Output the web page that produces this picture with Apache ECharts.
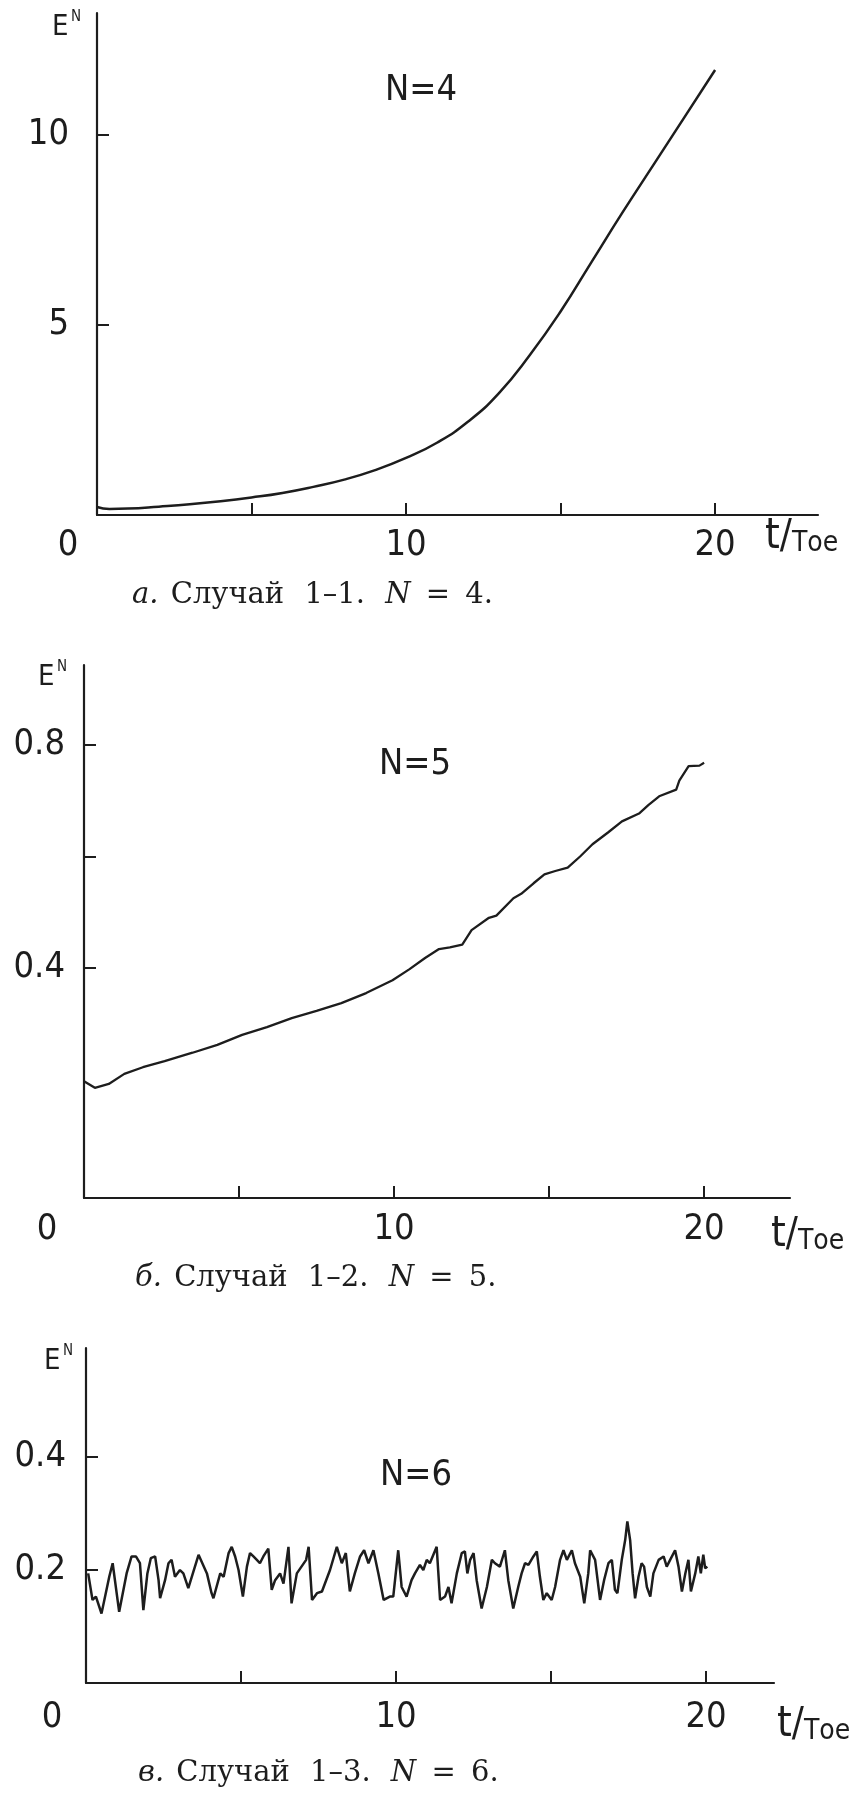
<!DOCTYPE html>
<html>
<head>
<meta charset="utf-8">
<title>Энергия E^N от времени</title>
<script src="https://cdn.jsdelivr.net/npm/echarts@6/dist/echarts.min.js"></script>
<style>
  html, body { margin: 0; padding: 0; background: #ffffff; }
  #chart { width: 864px; height: 1799px; }
</style>
</head>
<body>
<div id="chart"></div>
<script>
// ---- Panel а: N = 4 (smooth growth) ----
const tA = [0, 0.4, 1, 2, 3, 4, 5, 6, 7, 8, 9, 10,
            11, 12, 13, 14, 15, 16, 17, 18, 19, 20];
const eA = [0.21, 0.16, 0.17, 0.22, 0.28, 0.36, 0.46, 0.58, 0.74, 0.93, 1.18, 1.5,
            1.9, 2.45, 3.2, 4.2, 5.35, 6.65, 7.95, 9.2, 10.45, 11.7];

// ---- Panel б: N = 5 (slow, slightly jagged growth) ----
const tB = [0, 0.35, 0.8, 1.3, 1.9, 2.6, 3.5, 4.3, 5.1, 5.9,
            6.7, 7.5, 8.3, 9.1, 9.95, 10.5, 11.0, 11.45, 11.8, 12.2,
            12.5, 13.06, 13.3, 13.85, 14.1, 14.5, 14.85, 15.2, 15.6, 16.0,
            16.4, 16.9, 17.35, 17.9, 18.2, 18.55, 19.1, 19.2, 19.5, 19.85,
            20.0];
const eB = [0.197, 0.185, 0.192, 0.21, 0.222, 0.233, 0.248, 0.262, 0.28, 0.294,
            0.31, 0.323, 0.337, 0.355, 0.378, 0.398, 0.418, 0.434, 0.437, 0.442,
            0.468, 0.49, 0.494, 0.525, 0.533, 0.552, 0.568, 0.574, 0.58, 0.6,
            0.622, 0.643, 0.663, 0.677, 0.692, 0.708, 0.72, 0.736, 0.762, 0.763,
            0.768];

// ---- Panel в: N = 6 (oscillating around 0.2) ----
const tC = [0.07, 0.21, 0.32, 0.5, 0.75, 0.86, 1.07, 1.31, 1.47, 1.61,
            1.74, 1.85, 1.98, 2.09, 2.23, 2.34, 2.39, 2.55, 2.66, 2.76,
            2.87, 3.03, 3.14, 3.3, 3.63, 3.9, 4.05, 4.11, 4.33, 4.44,
            4.6, 4.7, 4.81, 4.92, 5.06, 5.19, 5.29, 5.4, 5.51, 5.61,
            5.72, 5.88, 5.99, 6.1, 6.26, 6.37, 6.53, 6.63, 6.8, 7.1,
            7.18, 7.29, 7.45, 7.61, 7.87, 8.09, 8.25, 8.38, 8.51, 8.67,
            8.84, 8.97, 9.11, 9.27, 9.43, 9.6, 9.8, 9.91, 10.07, 10.18,
            10.34, 10.5, 10.61, 10.77, 10.88, 10.99, 11.09, 11.31, 11.42, 11.58,
            11.69, 11.79, 11.96, 12.12, 12.22, 12.3, 12.39, 12.5, 12.6, 12.76,
            12.93, 13.09, 13.19, 13.35, 13.51, 13.62, 13.78, 13.94, 14.05, 14.16,
            14.27, 14.43, 14.54, 14.64, 14.75, 14.86, 15.02, 15.13, 15.29, 15.4,
            15.51, 15.67, 15.77, 15.94, 16.07, 16.2, 16.26, 16.42, 16.58, 16.71,
            16.85, 16.96, 17.06, 17.14, 17.28, 17.39, 17.46, 17.55, 17.63, 17.71,
            17.82, 17.92, 18.0, 18.09, 18.2, 18.3, 18.47, 18.63, 18.73, 18.84,
            19.0, 19.11, 19.22, 19.33, 19.43, 19.51, 19.65, 19.75, 19.83, 19.91,
            19.97, 20.04];
const eC = [0.194, 0.147, 0.153, 0.123, 0.188, 0.212, 0.126, 0.194, 0.224, 0.224,
            0.212, 0.129, 0.194, 0.221, 0.224, 0.182, 0.150, 0.182, 0.212, 0.218,
            0.188, 0.200, 0.194, 0.168, 0.227, 0.194, 0.159, 0.150, 0.194, 0.188,
            0.230, 0.241, 0.224, 0.200, 0.153, 0.206, 0.230, 0.224, 0.218, 0.212,
            0.224, 0.238, 0.165, 0.182, 0.194, 0.176, 0.241, 0.141, 0.194, 0.218,
            0.241, 0.147, 0.159, 0.162, 0.200, 0.241, 0.212, 0.230, 0.162, 0.194,
            0.224, 0.235, 0.212, 0.235, 0.194, 0.147, 0.153, 0.153, 0.235, 0.170,
            0.153, 0.182, 0.194, 0.209, 0.200, 0.218, 0.212, 0.241, 0.147, 0.153,
            0.170, 0.141, 0.194, 0.230, 0.233, 0.194, 0.218, 0.230, 0.182, 0.132,
            0.170, 0.218, 0.212, 0.206, 0.235, 0.182, 0.132, 0.170, 0.194, 0.212,
            0.209, 0.224, 0.233, 0.188, 0.147, 0.159, 0.147, 0.170, 0.218, 0.235,
            0.218, 0.235, 0.212, 0.188, 0.141, 0.194, 0.235, 0.218, 0.147, 0.182,
            0.212, 0.218, 0.165, 0.159, 0.218, 0.253, 0.286, 0.253, 0.194, 0.150,
            0.188, 0.212, 0.206, 0.170, 0.153, 0.194, 0.218, 0.224, 0.206, 0.218,
            0.235, 0.206, 0.162, 0.194, 0.218, 0.162, 0.194, 0.224, 0.194, 0.227,
            0.203, 0.206];

// ---- Axis ticks and labels ----
const xTicks = [5, 10, 15, 20];
const xLabels = [0, 10, 20];
const yTicksA = [5, 10];
const yLabelsA = [5, 10];
const yTicksB = [0.4, 0.6, 0.8];
const yLabelsB = [0.4, 0.8];
const yTicksC = [0.2, 0.4];
const yLabelsC = [0.2, 0.4];

// ---- Texts ----
const panelTitles = ['N=4', 'N=5', 'N=6'];
const caseLetters = ['а.', 'б.', 'в.'];
const caseNames = ['Случай 1–1.', 'Случай 1–2.', 'Случай 1–3.'];
const caseN = ['4.', '5.', '6.'];

const INK = '#1d1d1d';
const PLOT_FONT = '"DejaVu Sans Condensed", "Liberation Sans Narrow", "Liberation Sans", Arial, sans-serif';
const SERIF_FONT = '"DejaVu Serif", "Liberation Serif", serif';

const zip = (xs, ys) => xs.map((x, i) => [x, ys[i]]);

// Panel geometry (pixel boxes of the three plotting areas)
const panels = [
  { grid: { left: 97, top: 13, width: 721, height: 502 },
    xMax: 23.33, yMin: 0, yMax: 13.2,
    yTicks: yTicksA, yLabels: yLabelsA, yFmt: v => String(v),
    yMargin: 28, xMargin: 13, zeroShift: 58,
    data: zip(tA, eA), smooth: 0.5, width: 2.5 },
  { grid: { left: 84, top: 665, width: 706, height: 533 },
    xMax: 22.77, yMin: -0.0126, yMax: 0.9435,
    yTicks: yTicksB, yLabels: yLabelsB, yFmt: v => v.toFixed(1),
    yMargin: 19, xMargin: 14, zeroShift: 74,
    data: zip(tB, eB), smooth: false, width: 2.3 },
  { grid: { left: 86, top: 1348, width: 688, height: 335 },
    xMax: 22.19, yMin: 0, yMax: 0.593,
    yTicks: yTicksC, yLabels: yLabelsC, yFmt: v => v.toFixed(1),
    yMargin: 20, xMargin: 17, zeroShift: 68,
    data: zip(tC, eC), smooth: false, width: 2.5 }
];

const axisLine = { show: true, onZero: false, lineStyle: { color: INK, width: 2.2 } };
const tickStyle = { color: INK, width: 2 };

const option = {
  backgroundColor: '#ffffff',
  animation: false,
  grid: panels.map(p => p.grid),
  xAxis: panels.map((p, i) => ({
    type: 'value', gridIndex: i, min: 0, max: p.xMax,
    axisLine: axisLine,
    splitLine: { show: false },
    axisTick: { show: true, inside: true, length: 12, lineStyle: tickStyle, customValues: xTicks },
    axisLabel: {
      customValues: xLabels,
      margin: p.xMargin,
      color: INK, fontFamily: PLOT_FONT, fontSize: 36,
      formatter: v => (v === 0 ? '{o|0}' : String(v)),
      rich: { o: { fontFamily: PLOT_FONT, fontSize: 36, color: INK, padding: [0, p.zeroShift, 0, 0] } }
    }
  })),
  yAxis: panels.map((p, i) => ({
    type: 'value', gridIndex: i, min: p.yMin, max: p.yMax,
    axisLine: axisLine,
    splitLine: { show: false },
    axisTick: { show: true, inside: true, length: 12, lineStyle: tickStyle, customValues: p.yTicks },
    axisLabel: {
      customValues: p.yLabels,
      margin: p.yMargin,
      color: INK, fontFamily: PLOT_FONT, fontSize: 36,
      formatter: p.yFmt
    }
  })),
  series: panels.map((p, i) => ({
    type: 'line', xAxisIndex: i, yAxisIndex: i,
    data: p.data, showSymbol: false, smooth: p.smooth,
    lineStyle: { color: INK, width: p.width },
    silent: true
  })),
  graphic: []
};

// Axis captions "E^N" and "t/Toe", panel titles and figure captions
const yNamePos = [[52, 13], [38, 663], [44, 1347]];
const xNamePos = [[765, 558], [771, 1256], [777, 1746]];
const titlePos = [[421, 91], [415, 765], [416, 1476]];
const captionPos = [[132, 595], [135, 1278], [138, 1773]];

panels.forEach((p, i) => {
  const [ex, ey] = yNamePos[i];
  option.graphic.push(
    { type: 'text', left: ex, top: ey, silent: true,
      style: { text: 'E', font: '29px ' + PLOT_FONT, fill: INK } },
    { type: 'text', left: ex + 19, top: ey - 3, silent: true,
      style: { text: 'N', font: '15px ' + PLOT_FONT, fill: INK } }
  );
  const [tx, ty] = xNamePos[i];
  option.graphic.push({
    type: 'text', x: tx, y: ty, silent: true,
    style: {
      text: '{t|t}{s|/}{T|T}{oe|oe}', align: 'left', verticalAlign: 'bottom', fill: INK,
      rich: {
        t: { fontFamily: PLOT_FONT, fontSize: 42, verticalAlign: 'bottom', fill: INK },
        s: { fontFamily: PLOT_FONT, fontSize: 40, verticalAlign: 'bottom', fill: INK },
        T: { fontFamily: PLOT_FONT, fontSize: 28, verticalAlign: 'bottom', fill: INK },
        oe: { fontFamily: PLOT_FONT, fontSize: 28, verticalAlign: 'bottom', fill: INK }
      }
    }
  });
  const [nx, ny] = titlePos[i];
  option.graphic.push({
    type: 'text', x: nx, y: ny, silent: true,
    style: { text: panelTitles[i], font: '36px ' + PLOT_FONT, fill: INK, align: 'center', verticalAlign: 'middle' }
  });
  const [cx, cy] = captionPos[i];
  const caption = '{i|' + caseLetters[i] + '}{g1| }' + caseNames[i].replace(' ', '{g2| }') +
                  '{g2| }{i|N}{g3| }={g3| }' + caseN[i];
  option.graphic.push({
    type: 'text', x: cx, y: cy, silent: true,
    style: {
      text: caption, align: 'left', verticalAlign: 'middle',
      fontFamily: SERIF_FONT, fontSize: 29, fill: INK,
      rich: {
        i: { fontFamily: SERIF_FONT, fontSize: 29, fontStyle: 'italic', fill: INK },
        g1: { fontFamily: SERIF_FONT, fontSize: 29, padding: [0, 3, 0, 0] },
        g2: { fontFamily: SERIF_FONT, fontSize: 29, padding: [0, 11, 0, 0] },
        g3: { fontFamily: SERIF_FONT, fontSize: 29, padding: [0, 6, 0, 0] }
      }
    }
  });
});

const chart = echarts.init(document.getElementById('chart'), null, { renderer: 'canvas', width: 864, height: 1799 });
chart.setOption(option);
</script>
</body>
</html>
